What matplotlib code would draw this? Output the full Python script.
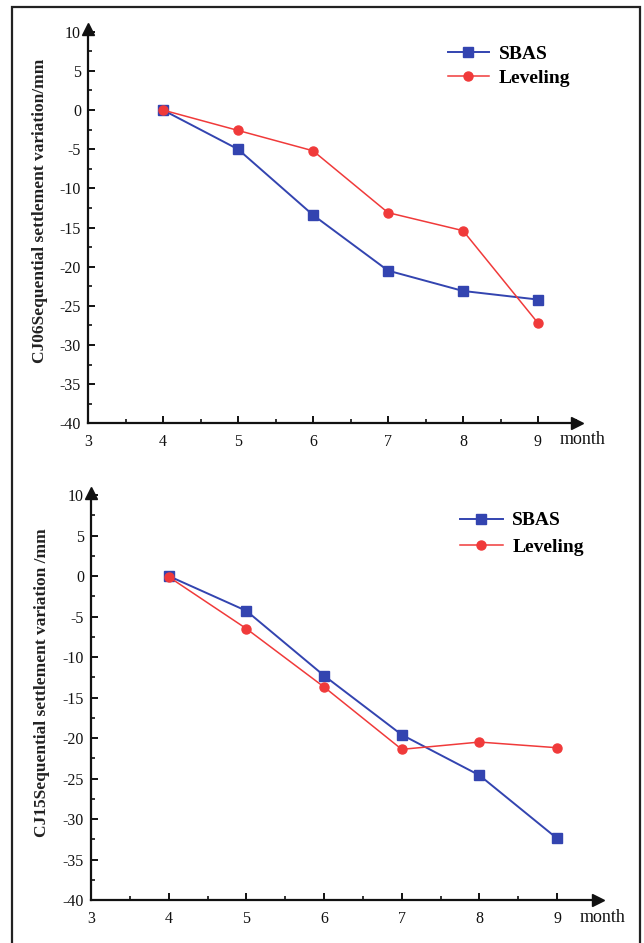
import matplotlib
matplotlib.use("Agg")
import matplotlib.pyplot as plt
from matplotlib.ticker import MultipleLocator
from matplotlib.patches import Rectangle

months = [4, 5, 6, 7, 8, 9]
cj06_sbas = [0, -5.0, -13.4, -20.5, -23.1, -24.2]
cj06_level = [0, -2.6, -5.2, -13.1, -15.4, -27.2]
cj15_sbas = [0, -4.3, -12.3, -19.6, -24.6, -32.4]
cj15_level = [-0.1, -6.5, -13.7, -21.4, -20.5, -21.2]
yticks = [10, 5, 0, -5, -10, -15, -20, -25, -30, -35, -40]
xticks = [3, 4, 5, 6, 7, 8, 9]
series_names = ["SBAS", "Leveling"]
ylabels = ["CJ06Sequential settlement variation/mm",
           "CJ15Sequential settlement variation /mm"]

W, H = 644, 943
fig = plt.figure(figsize=(W / 100, H / 100), dpi=100)
plt.rcParams['font.family'] = ['Liberation Serif', 'DejaVu Serif']

BLUE = '#3344b0'
RED = '#f03a3a'

def px_axes(left, top, right, bottom):
    return fig.add_axes([left / W, 1 - bottom / H, (right - left) / W, (bottom - top) / H])

# frame around the whole figure
fig.patches.append(Rectangle((12 / W, -0.01), (640 - 12) / W, 1 - 7 / H + 0.01,
                             transform=fig.transFigure, fill=False,
                             edgecolor='#222222', linewidth=1.6))

panels = [
    dict(box=(88, 29.4, 577, 423.3), sb=cj06_sbas, lv=cj06_level, yl=ylabels[0],
         leg=(0.736, 0.960), month=(583, 440), ylx=48, yly=0.54, hl=2.1, ls=0.35),
    dict(box=(91, 492.6, 597.5, 900), sb=cj15_sbas, lv=cj15_level, yl=ylabels[1],
         leg=(0.728, 0.953), month=(603, 918), ylx=50, yly=0.534, hl=2.2, ls=0.45),
]

for p in panels:
    ax = px_axes(*p['box'])
    ax.set_xlim(3, 9.52)
    ax.set_ylim(-40, 10.3)
    ax.plot(months, p['sb'], color=BLUE, marker='s', markersize=6.5, linewidth=1.4,
            label=series_names[0])
    ax.plot(months, p['lv'], color=RED, marker='o', markersize=6.5, linewidth=1.1,
            label=series_names[1])
    for s in ['top', 'right']:
        ax.spines[s].set_visible(False)
    for s in ['left', 'bottom']:
        ax.spines[s].set_linewidth(1.6)
        ax.spines[s].set_color('#111111')
    ax.set_xticks(xticks)
    ax.set_yticks(yticks)
    ax.xaxis.set_minor_locator(MultipleLocator(0.5))
    ax.yaxis.set_minor_locator(MultipleLocator(2.5))
    ax.tick_params(which='major', direction='in', length=5, width=1.4,
                   labelsize=11.5, colors='#111111', pad=5)
    ax.tick_params(axis='x', which='major', pad=8)
    ax.tick_params(which='minor', direction='in', length=3, width=1.2, colors='#111111')
    ax.set_yticklabels([str(v) for v in yticks])
    ax.set_xticklabels([str(v) for v in xticks])
    # arrows
    ax.plot(1, 0, marker='>', color='#111111', markersize=9, transform=ax.transAxes,
            clip_on=False)
    ax.plot(0, 1, marker='^', color='#111111', markersize=9, transform=ax.transAxes,
            clip_on=False)
    ax.set_ylabel(p['yl'], fontsize=12.5, fontweight='bold', color='#222222')
    ax.yaxis.set_label_coords((p['ylx'] - p['box'][0]) / (p['box'][2] - p['box'][0]),
                              p['yly'])
    fig.text(p['month'][0] / W, 1 - p['month'][1] / H, 'month', fontsize=13,
             ha='center', va='center', color='#111111')
    ax.legend(loc='upper left', bbox_to_anchor=p['leg'], frameon=False,
              handlelength=p['hl'], labelspacing=p['ls'], borderpad=0,
              borderaxespad=0, handletextpad=0.5,
              prop={'weight': 'bold', 'size': 14})

fig.savefig('out.png', dpi=100)
